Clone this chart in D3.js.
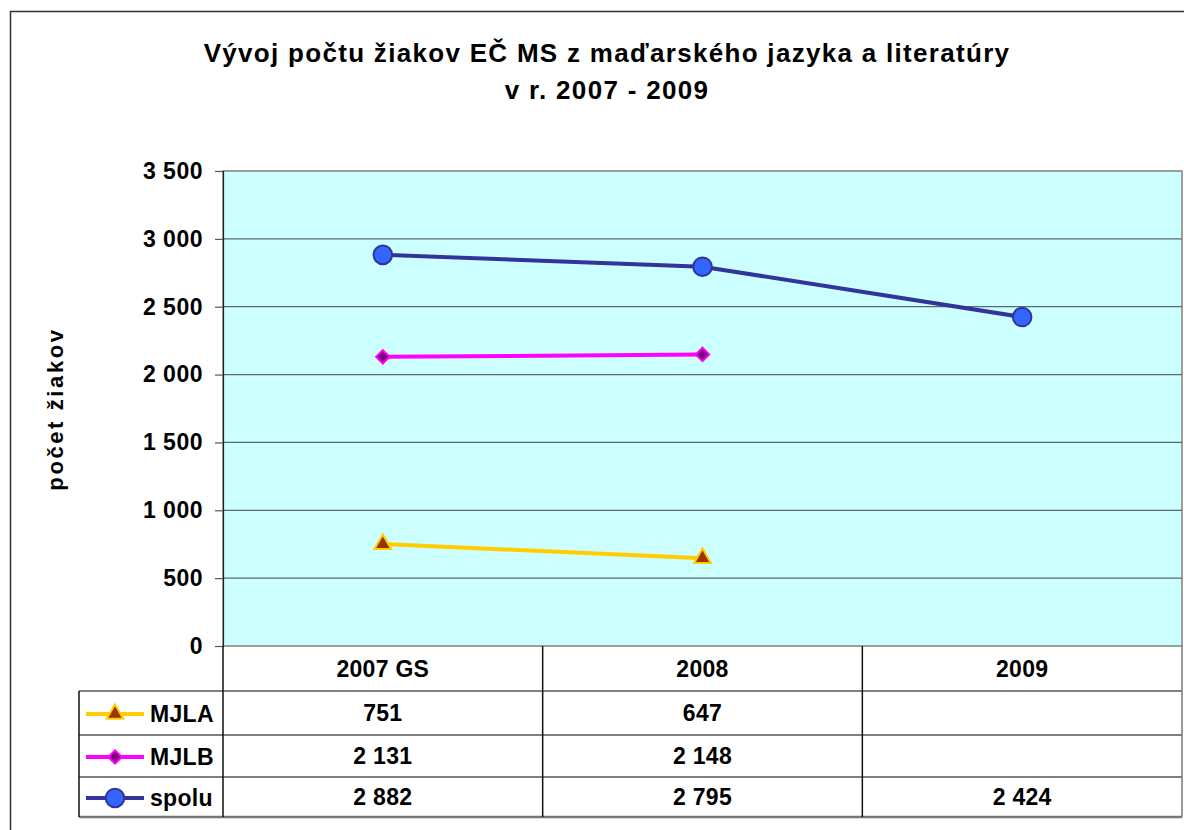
<!DOCTYPE html>
<html>
<head>
<meta charset="utf-8">
<script src="https://cdn.jsdelivr.net/npm/d3@7"></script>
<style>
  body { margin: 0; background: #fff; }
  text { font-family: "Liberation Sans", Arial, sans-serif; font-weight: bold; fill: #000; }
</style>
</head>
<body>
<svg id="chart" width="1184" height="830"></svg>
<script>
// data
var categories = ["2007 GS", "2008", "2009"];
var seriesNames = ["MJLA", "MJLB", "spolu"];
var mjla = [751, 647, null];
var mjlb = [2131, 2148, null];
var spolu = [2882, 2795, 2424];
var yTicks = [0, 500, 1000, 1500, 2000, 2500, 3000, 3500];

var titleLines = ["Vývoj počtu žiakov EČ MS z maďarského jazyka a literatúry", "v r. 2007 - 2009"];
var yLabel = "počet žiakov";

var svg = d3.select("#chart");

// outer chart border (runs off the picture on right/bottom)
svg.append("rect")
  .attr("x", 10.5).attr("y", 11.5)
  .attr("width", 1200).attr("height", 900)
  .attr("fill", "#fff").attr("stroke", "#333").attr("stroke-width", 1.5);

var plot = {left: 223, top: 171, right: 1182, bottom: 646};

var x = d3.scaleBand()
  .domain(categories)
  .range([plot.left, plot.right])
  .padding(0);

var y = d3.scaleLinear()
  .domain([0, 3500])
  .range([plot.bottom, plot.top]);

var fmt = d3.formatLocale({decimal: ",", thousands: " ", grouping: [3], currency: ["", ""]}).format(",d");

// plot background
svg.append("rect")
  .attr("x", plot.left).attr("y", plot.top)
  .attr("width", plot.right - plot.left).attr("height", plot.bottom - plot.top)
  .attr("fill", "#ccffff").attr("stroke", "#808080").attr("stroke-width", 1.5);

// gridlines
svg.append("g")
  .selectAll("line")
  .data(yTicks.filter(function(d) { return d > 0 && d < 3500; }))
  .enter().append("line")
  .attr("x1", plot.left).attr("x2", plot.right)
  .attr("y1", function(d) { return y(d); })
  .attr("y2", function(d) { return y(d); })
  .attr("stroke", "#5a6a6a").attr("stroke-width", 1.2);

// y axis
var yAxis = svg.append("g")
  .attr("transform", "translate(" + plot.left + ",0)")
  .call(d3.axisLeft(y).tickValues(yTicks).tickFormat(fmt).tickSize(8).tickPadding(12));
yAxis.select(".domain").attr("stroke", "#222").attr("stroke-width", 1.2);
yAxis.selectAll(".tick line").attr("stroke", "#555").attr("stroke-width", 1.2);
yAxis.selectAll("text")
  .attr("font-size", 23)
  .attr("letter-spacing", 0.5)
  .attr("font-family", "Liberation Sans, Arial, sans-serif")
  .attr("font-weight", "bold")
  .attr("fill", "#000");

// title
svg.append("g").selectAll("text")
  .data(titleLines)
  .enter().append("text")
  .attr("x", 607)
  .attr("y", function(d, i) { return 62 + i * 37; })
  .attr("text-anchor", "middle")
  .attr("font-size", 26)
  .attr("letter-spacing", 1.3)
  .text(function(d) { return d; });

// y label
svg.append("text")
  .attr("transform", "translate(63,409) rotate(-90)")
  .attr("text-anchor", "middle")
  .attr("font-size", 22)
  .attr("letter-spacing", 2.6)
  .text(yLabel);

// series
var diamond = {
  draw: function(ctx, size) {
    var r = Math.sqrt(size / 2);
    ctx.moveTo(0, -r); ctx.lineTo(r, 0); ctx.lineTo(0, r); ctx.lineTo(-r, 0); ctx.closePath();
  }
};

var series = [
  {name: seriesNames[0], values: mjla, line: "#ffcc00", fill: "#993300", stroke: "#ffcc00", marker: d3.symbolTriangle, size: 120},
  {name: seriesNames[1], values: mjlb, line: "#ff00ff", fill: "#800080", stroke: "#ff00ff", marker: diamond, size: 90},
  {name: seriesNames[2], values: spolu, line: "#333399", fill: "#3366ff", stroke: "#333399", marker: d3.symbolCircle, size: 270}
];

var cx = function(i) { return x(categories[i]) + x.bandwidth() / 2; };

var line = d3.line()
  .defined(function(d) { return d != null; })
  .x(function(d, i) { return cx(i); })
  .y(function(d) { return y(d); });

series.forEach(function(s) {
  svg.append("path")
    .datum(s.values)
    .attr("d", line)
    .attr("fill", "none")
    .attr("stroke", s.line)
    .attr("stroke-width", 4);

  svg.append("g").selectAll("path")
    .data(s.values.map(function(v, i) { return {v: v, i: i}; }).filter(function(d) { return d.v != null; }))
    .enter().append("path")
    .attr("transform", function(d) { return "translate(" + cx(d.i) + "," + y(d.v) + ")"; })
    .attr("d", d3.symbol().type(s.marker).size(s.size))
    .attr("fill", s.fill)
    .attr("stroke", s.stroke)
    .attr("stroke-width", 2);
});

// data table
var tbl = {left: 79, header: 691, rows: [691, 735, 777, 817]};
var t = svg.append("g");

// header category labels
t.selectAll("text.cat")
  .data(categories)
  .enter().append("text")
  .attr("class", "cat")
  .attr("x", function(d) { return x(d) + x.bandwidth() / 2; })
  .attr("y", (plot.bottom + tbl.header) / 2 + 8)
  .attr("text-anchor", "middle")
  .attr("font-size", 23)
  .attr("letter-spacing", 0.3)
  .text(function(d) { return d; });

// horizontal lines
t.selectAll("line.h")
  .data(tbl.rows)
  .enter().append("line")
  .attr("x1", tbl.left).attr("x2", plot.right)
  .attr("y1", function(d) { return d; }).attr("y2", function(d) { return d; })
  .attr("stroke", function(d, i) { return i == 3 ? "#777" : "#555"; })
  .attr("stroke-width", function(d, i) { return i == 3 ? 2.5 : 1.5; });

// vertical lines
var vlines = [plot.left].concat(categories.map(function(c) { return x(c) + x.bandwidth(); }));
t.selectAll("line.v")
  .data(vlines)
  .enter().append("line")
  .attr("x1", function(d) { return d; }).attr("x2", function(d) { return d; })
  .attr("y1", plot.bottom).attr("y2", tbl.rows[3])
  .attr("stroke", function(d, i) { return i == 3 ? "#777" : "#111"; })
  .attr("stroke-width", 1.5);
t.append("line")
  .attr("x1", tbl.left).attr("x2", tbl.left)
  .attr("y1", tbl.rows[0]).attr("y2", tbl.rows[3])
  .attr("stroke", "#111").attr("stroke-width", 1.5);

series.forEach(function(s, r) {
  var cy = (tbl.rows[r] + tbl.rows[r + 1]) / 2;
  t.append("line")
    .attr("x1", 86).attr("x2", 144)
    .attr("y1", cy + 1).attr("y2", cy + 1)
    .attr("stroke", s.line).attr("stroke-width", 4);
  t.append("path")
    .attr("transform", "translate(115," + (cy + 1) + ")")
    .attr("d", d3.symbol().type(s.marker).size(s.size))
    .attr("fill", s.fill).attr("stroke", s.stroke).attr("stroke-width", 2);
  t.append("text")
    .attr("x", 150).attr("y", cy + 9)
    .attr("font-size", 23)
    .attr("letter-spacing", 0.3)
    .text(s.name);
  t.selectAll(null)
    .data(s.values.map(function(v, i) { return {v: v, i: i}; }).filter(function(d) { return d.v != null; }))
    .enter().append("text")
    .attr("x", function(d) { return cx(d.i); })
    .attr("y", cy + 8)
    .attr("text-anchor", "middle")
    .attr("font-size", 23)
    .attr("letter-spacing", 0.3)
    .text(function(d) { return fmt(d.v); });
});
</script>
</body>
</html>
